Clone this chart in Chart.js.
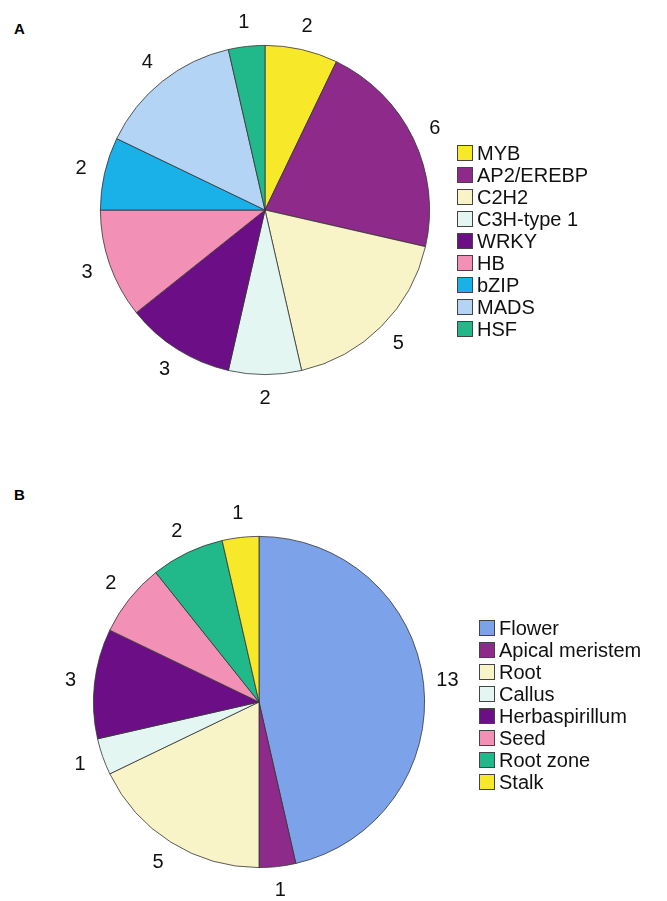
<!DOCTYPE html>
<html>
<head>
<meta charset="utf-8">
<script src="https://cdn.jsdelivr.net/npm/chart.js@4"></script>
<style>
body { margin:0; background:#fff; font-family: "Liberation Sans", Arial, sans-serif; }
#page { position:relative; width:667px; height:901px; }
.panel { position:absolute; font-weight:bold; font-size:15px; }
.legend { position:absolute; font-size:20px; color:#111; }
.legend div { height:22px; display:flex; align-items:center; }
.legend span.box { display:inline-block; width:14px; height:14px; border:1px solid #444; margin-right:4px; }
</style>
</head>
<body>
<div id="page">
  <div class="panel" style="left:14px;top:20px">A</div>
  <div class="panel" style="left:14px;top:486px">B</div>
  <div style="position:absolute;left:0;top:0;width:530px;height:420px"><canvas id="pieA"></canvas></div>
  <div style="position:absolute;left:0;top:492px;width:518px;height:420px"><canvas id="pieB"></canvas></div>
  <div class="legend" id="legendA" style="left:457px;top:142px"></div>
  <div class="legend" id="legendB" style="left:479px;top:617px"></div>
</div>
<script>
// Panel A: transcription factor families
const labelsA = ['MYB', 'AP2/EREBP', 'C2H2', 'C3H-type 1', 'WRKY', 'HB', 'bZIP', 'MADS', 'HSF'];
const valuesA = [2, 6, 5, 2, 3, 3, 2, 4, 1];
const colorsA = ['#f7e92a', '#8e2a8a', '#f8f4c8', '#e3f6f1', '#6c0f87', '#f290b5', '#1ab0e8', '#b3d4f5', '#21b98a'];

// Panel B: tissue sources
const labelsB = ['Flower', 'Apical meristem', 'Root', 'Callus', 'Herbaspirillum', 'Seed', 'Root zone', 'Stalk'];
const valuesB = [13, 1, 5, 1, 3, 2, 2, 1];
const colorsB = ['#7ca3ea', '#8e2a8a', '#f8f4c8', '#e3f6f1', '#6c0f87', '#f290b5', '#21b98a', '#f7e92a'];

/**
 * Draw value labels just outside each slice
 */
const outsideLabels = {
    id: 'outsideLabels',
    afterDatasetsDraw(chart) {
        const ctx = chart.ctx;
        const meta = chart.getDatasetMeta(0);
        ctx.save();
        ctx.font = '20px "Liberation Sans", Arial, sans-serif';
        ctx.fillStyle = '#111';
        ctx.textAlign = 'center';
        ctx.textBaseline = 'middle';
        meta.data.forEach((arc, i) => {
            const mid = (arc.startAngle + arc.endAngle) / 2;
            const r = arc.outerRadius + 24;
            ctx.fillText(chart.data.datasets[0].data[i], arc.x + Math.cos(mid) * r, arc.y + Math.sin(mid) * r);
        });
        ctx.restore();
    }
};

function makePie(id, labels, values, colors, pad) {
    new Chart(document.getElementById(id), {
        type: 'pie',
        data: {
            labels: labels,
            datasets: [{
                data: values,
                backgroundColor: colors,
                borderColor: '#333',
                borderWidth: 0.8
            }]
        },
        options: {
            responsive: true,
            maintainAspectRatio: false,
            animation: false,
            layout: { padding: pad },
            plugins: { legend: { display: false }, tooltip: { enabled: false } }
        },
        plugins: [outsideLabels]
    });
}

function makeLegend(id, labels, colors) {
    const el = document.getElementById(id);
    labels.forEach((label, i) => {
        const row = document.createElement('div');
        row.innerHTML = `<span class="box" style="background:${colors[i]}"></span>${label}`;
        el.appendChild(row);
    });
}

makePie('pieA', labelsA, valuesA, colorsA, 45);
makePie('pieB', labelsB, valuesB, colorsB, 44);
makeLegend('legendA', labelsA, colorsA);
makeLegend('legendB', labelsB, colorsB);
</script>
</body>
</html>
